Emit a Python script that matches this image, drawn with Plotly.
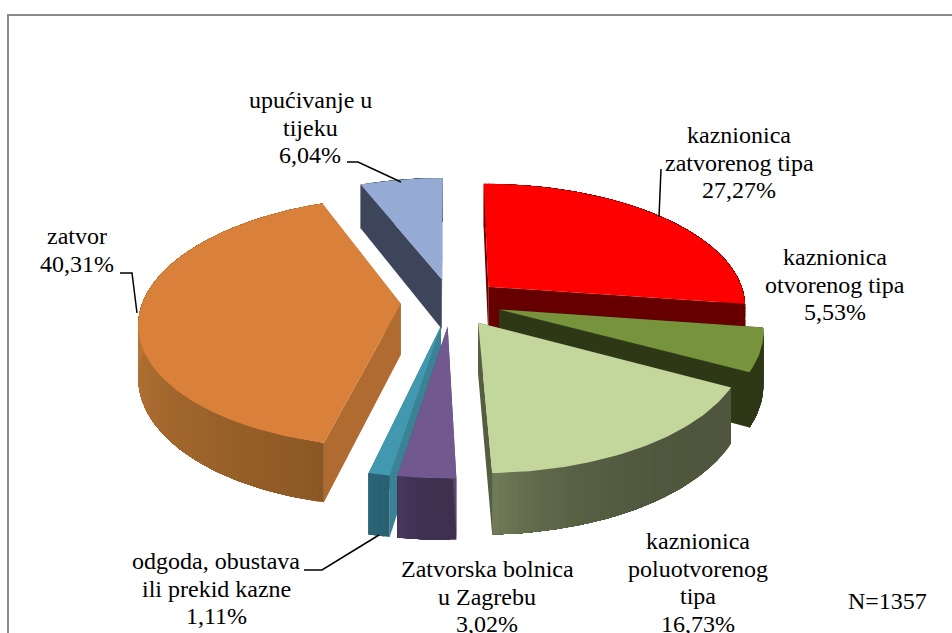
import math
import plotly.graph_objects as go

categories = ["kaznionica zatvorenog tipa", "kaznionica otvorenog tipa", "kaznionica poluotvorenog tipa",
              "Zatvorska bolnica u Zagrebu", "odgoda, obustava ili prekid kazne", "zatvor", "upućivanje u tijeku"]
values = [27.27, 5.53, 16.73, 3.02, 1.11, 40.31, 6.04]
value_labels = ["27,27%", "5,53%", "16,73%", "3,02%", "1,11%", "40,31%", "6,04%"]
label_lines = [["kaznionica", "zatvorenog tipa"], ["kaznionica", "otvorenog tipa"],
               ["kaznionica", "poluotvorenog", "tipa"], ["Zatvorska bolnica", "u Zagrebu"],
               ["odgoda, obustava", "ili prekid kazne"], ["zatvor"], ["upućivanje u", "tijeku"]]
top_colors = ["#FF0000", "#77933C", "#C3D69B", "#71588F", "#4198AF", "#D9803A", "#95ABD3"]
wall_light = ["#660000", "#2E3816", "#6F7A58", "#47375C", "#2A6476", "#BA7636", "#3C4559"]
wall_dark = ["#660000", "#2E3816", "#4F563D", "#3F3050", "#2A6072", "#8B5824", "#3C4559"]
radial_colors = ["#660000", "#2E3816", "#565E42", "#5A4672", "#3A8294", "#AF6B30", "#3C4559"]
label_x = [739, 835, 698, 487, 216, 77, 310]
label_y = [135, 257, 541, 569, 561, 236, 100]
note = "N=1357"

CX, CY, RX, RY = 451, 302, 258, 122
PERSP, EXPLODE, DEPTH = 0.145, 0.195, 51
LINE_GAP = 27.7
FONT = "Liberation Serif"
FONT_SIZE = 24


def project(u, v, lower=False):
    s = 1 / (1 - PERSP * v)
    y = CY + RY * v * s + (DEPTH * s if lower else 0)
    return CX + RX * u * s, y


def mix(a, b, t):
    pa = [int(a[i:i + 2], 16) for i in (1, 3, 5)]
    pb = [int(b[i:i + 2], 16) for i in (1, 3, 5)]
    return "#%02x%02x%02x" % tuple(round(p + (q - p) * t) for p, q in zip(pa, pb))


fig = go.Figure()


def poly(points, color, edge=0.0):
    xs = [p[0] for p in points] + [points[0][0]]
    ys = [p[1] for p in points] + [points[0][1]]
    fig.add_trace(go.Scatter(x=xs, y=ys, mode="lines", fill="toself", fillcolor=color,
                             line=dict(color=color, width=edge), hoverinfo="skip", showlegend=False))


def radial(a, b, color):
    poly([project(*a), project(*b), project(*b, True), project(*a, True)], color)


total = sum(values)
angles, running = [], 0.0
for val in values:
    angles.append((running / total * 2 * math.pi, (running + val) / total * 2 * math.pi))
    running += val

draw_order = [6, 0, 5, 1, 2, 4, 3]
for i in draw_order:
    a0, a1 = angles[i]
    mid = (a0 + a1) / 2
    ox, oy = EXPLODE * math.sin(mid), -EXPLODE * math.cos(mid)
    n = max(4, int((a1 - a0) / 0.02))
    rim = [(ox + math.sin(a0 + (a1 - a0) * k / n), oy - math.cos(a0 + (a1 - a0) * k / n)) for k in range(n + 1)]
    apex = (ox, oy)
    far, near = sorted([rim[0], rim[-1]], key=lambda p: p[1])
    radial(apex, far, radial_colors[i])
    # the outer wall is layered so that neighbouring shades blend without seams
    front = [k for k in range(n) if rim[k][1] > 0] or [0]
    span = max(1, front[-1] - front[0])
    power = 1 if a0 > math.pi else 4
    for k in range(n):
        seg = rim[k:]
        t = min(1.0, max(0.0, (k - front[0]) / span)) ** power
        poly([project(*p) for p in seg] + [project(*p, True) for p in reversed(seg)],
             mix(wall_dark[i], wall_light[i], t))
    radial(apex, near, radial_colors[i])
    poly([project(*apex)] + [project(*p) for p in rim], top_colors[i])

leaders = [([347, 358, 401], [162, 162, 182]), ([661, 659], [169, 217]),
           ([120, 132, 137], [273, 273, 313]), ([304, 322, 379], [570, 570, 535])]
for xs, ys in leaders:
    fig.add_trace(go.Scatter(x=xs, y=ys, mode="lines", line=dict(color="black", width=1.5),
                             hoverinfo="skip", showlegend=False))

for i, lines in enumerate(label_lines):
    for j, text in enumerate(lines + [value_labels[i]]):
        fig.add_annotation(x=label_x[i], y=label_y[i] + j * LINE_GAP, text=text, showarrow=False,
                           xanchor="center", yanchor="middle", font=dict(family=FONT, size=FONT_SIZE, color="black"))
fig.add_annotation(x=887, y=601, text=note, showarrow=False, xanchor="center", yanchor="middle",
                   font=dict(family=FONT, size=FONT_SIZE, color="black"))

fig.add_shape(type="rect", x0=8, y0=15, x1=1000, y1=700, line=dict(color="#8C8C8C", width=2), layer="below")
fig.update_layout(width=952, height=633, margin=dict(l=0, r=0, t=0, b=0), paper_bgcolor="white",
                  plot_bgcolor="white", showlegend=False,
                  xaxis=dict(range=[0, 952], visible=False, fixedrange=True),
                  yaxis=dict(range=[633, 0], visible=False, fixedrange=True))
fig.write_html("out.html", config={"displayModeBar": False},
               post_script="document.body.style.margin='0';document.body.style.overflow='hidden';")
